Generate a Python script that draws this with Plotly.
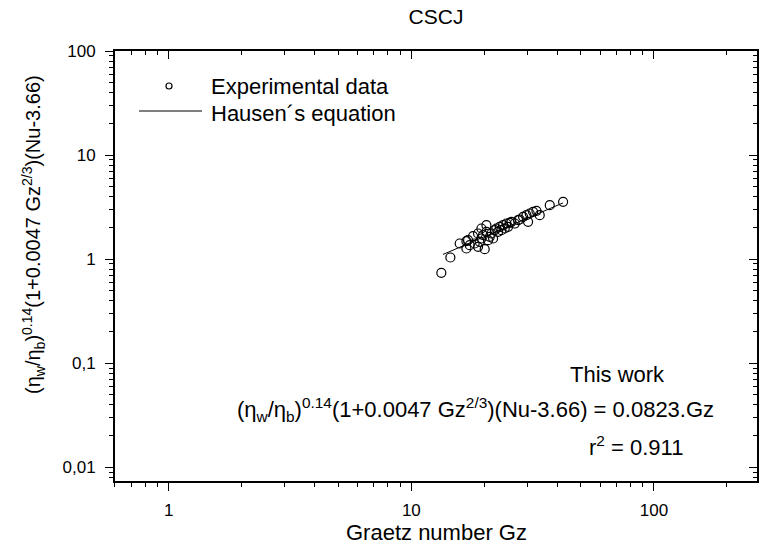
import plotly.graph_objects as go

# ---------------- data ----------------
gz_exp = [13.29, 14.48, 15.82, 16.86, 17.13, 17.96, 16.86, 18.24, 18.83, 19.75,
          20.39, 20.06, 19.13, 20.71, 18.83, 21.38, 22.07, 22.41, 23.14, 23.51,
          23.88, 24.65, 25.44, 25.85, 26.68, 27.54, 27.98, 28.88, 29.81, 30.76,
          30.28, 31.76, 32.78, 33.82, 37.20, 42.22, 17.40, 19.44, 21.04, 20.39,
          22.78, 24.26, 19.44, 21.72, 25.04]
y_exp = [0.739, 1.037, 1.414, 1.266, 1.522, 1.663, 1.489, 1.414, 1.764, 1.700,
         2.121, 1.247, 1.467, 1.522, 1.313, 1.764, 1.898, 1.970, 2.044, 1.898,
         2.121, 2.200, 2.233, 2.283, 2.200, 2.369, 2.404, 2.550, 2.646, 2.745,
         2.283, 2.848, 2.912, 2.646, 3.300, 3.552, 1.363, 1.579, 1.638, 1.830,
         1.830, 1.970, 1.970, 1.579, 2.044]

gz_fit = [13.5, 42.2]
y_fit = [1.11, 3.47]

x_tickvals = [1, 10, 100]
x_ticktext = ["1", "10", "100"]
y_tickvals = [0.01, 0.1, 1, 10, 100]
y_ticktext = ["0,01", "0,1", "1", "10", "100"]

title_text = "CSCJ"
x_title = "Graetz number Gz"
y_title = "(η<sub>w</sub>/η<sub>b</sub>)<sup>0.14</sup>(1+0.0047 Gz<sup>2/3</sup>)(Nu-3.66)"
legend_labels = ["Experimental data", "Hausen´s equation"]
note_lines = ["This work",
              "(η<sub>w</sub>/η<sub>b</sub>)<sup>0.14</sup>(1+0.0047 Gz<sup>2/3</sup>)(Nu-3.66) = 0.0823.Gz",
              "r<sup>2</sup> = 0.911"]

# ---------------- layout geometry ----------------
W, H = 766, 549
L, R, T, B = 115, 757, 51, 481
FONT = "Liberation Sans, Arial, sans-serif"


def px(x):
    return (x - L) / (R - L)


def py(y):
    return (B - y) / (B - T)


minor_vals = [m * 10 ** e for e in range(-3, 3) for m in range(2, 10)]

fig = go.Figure()
fig.add_trace(go.Scatter(x=gz_fit, y=y_fit, mode="lines",
                         line=dict(color="black", width=1), showlegend=False,
                         hoverinfo="skip"))
fig.add_trace(go.Scatter(x=gz_exp, y=y_exp, mode="markers",
                         marker=dict(symbol="circle-open", size=9, color="black",
                                     line=dict(width=1.2, color="black")),
                         showlegend=False))
# dummy trace for mirrored (inward) top/right axes
fig.add_trace(go.Scatter(x=[1], y=[1], xaxis="x2", yaxis="y2", mode="markers",
                         marker=dict(opacity=0), showlegend=False, hoverinfo="skip"))

xr = [-0.2218, 2.4249]
yr = [-2.1315, 2.0]

axis_common = dict(type="log", showgrid=False, zeroline=False, showline=True,
                   linecolor="black", linewidth=1.8, tickcolor="black",
                   tickwidth=1.4, ticklen=8,
                   tickfont=dict(family=FONT, size=17, color="black"))

fig.update_layout(
    width=W, height=H,
    margin=dict(l=L, r=W - R, t=T, b=H - B, pad=0),
    paper_bgcolor="white", plot_bgcolor="white",
    showlegend=False,
    title=dict(text=title_text, x=436 / W, xanchor="center", y=1 - 17 / H,
               yanchor="middle", font=dict(family=FONT, size=21, color="black")),
    xaxis=dict(**axis_common, range=xr, ticks="outside", tickvals=x_tickvals,
               ticktext=x_ticktext, ticklabelstandoff=5,
               minor=dict(tickvals=minor_vals, ticks="outside", ticklen=4,
                          tickwidth=1.4, tickcolor="black")),
    yaxis=dict(**axis_common, range=yr, ticks="outside", tickvals=y_tickvals,
               ticktext=y_ticktext, ticklabelstandoff=6,
               minor=dict(tickvals=minor_vals, ticks="outside", ticklen=4,
                          tickwidth=1.4, tickcolor="black")),
    xaxis2=dict(**axis_common, range=xr, overlaying="x", side="top", anchor="y2",
                ticks="inside", tickvals=x_tickvals, showticklabels=False,
                minor=dict(tickvals=minor_vals, ticks="inside", ticklen=4,
                           tickwidth=1.4, tickcolor="black")),
    yaxis2=dict(**axis_common, range=yr, overlaying="y", side="right", anchor="x2",
                ticks="inside", tickvals=y_tickvals, showticklabels=False,
                minor=dict(tickvals=minor_vals, ticks="inside", ticklen=4,
                           tickwidth=1.4, tickcolor="black")),
)

ann_font = dict(family=FONT, size=22, color="black")
anns = [
    dict(text=x_title, x=px(436), y=py(532), xanchor="center", yanchor="middle",
         font=ann_font),
    dict(text=y_title, x=px(33), y=py(235), xanchor="center", yanchor="middle",
         textangle=-90, font=dict(family=FONT, size=20, color="black")),
    dict(text=note_lines[0], x=px(617), y=py(374), xanchor="center", yanchor="middle",
         font=ann_font),
    dict(text=note_lines[1], x=px(716), y=py(409), xanchor="right", yanchor="middle",
         font=ann_font),
    dict(text=note_lines[2], x=px(636), y=py(446), xanchor="center", yanchor="middle",
         font=ann_font),
    dict(text=legend_labels[0], x=px(209), y=py(87), xanchor="left", yanchor="middle",
         font=ann_font),
    dict(text=legend_labels[1], x=px(209), y=py(113), xanchor="left", yanchor="middle",
         font=ann_font),
]
for a in anns:
    a.update(xref="paper", yref="paper", showarrow=False)
fig.update_layout(annotations=anns)

# legend symbols
fig.add_shape(type="line", xref="paper", yref="paper", x0=px(139), x1=px(202),
              y0=py(111), y1=py(111), line=dict(color="black", width=1))
fig.add_shape(type="circle", xref="paper", yref="paper", x0=px(166), x1=px(172),
              y0=py(89), y1=py(83), line=dict(color="black", width=1.2))

fig.write_html("out.html")
